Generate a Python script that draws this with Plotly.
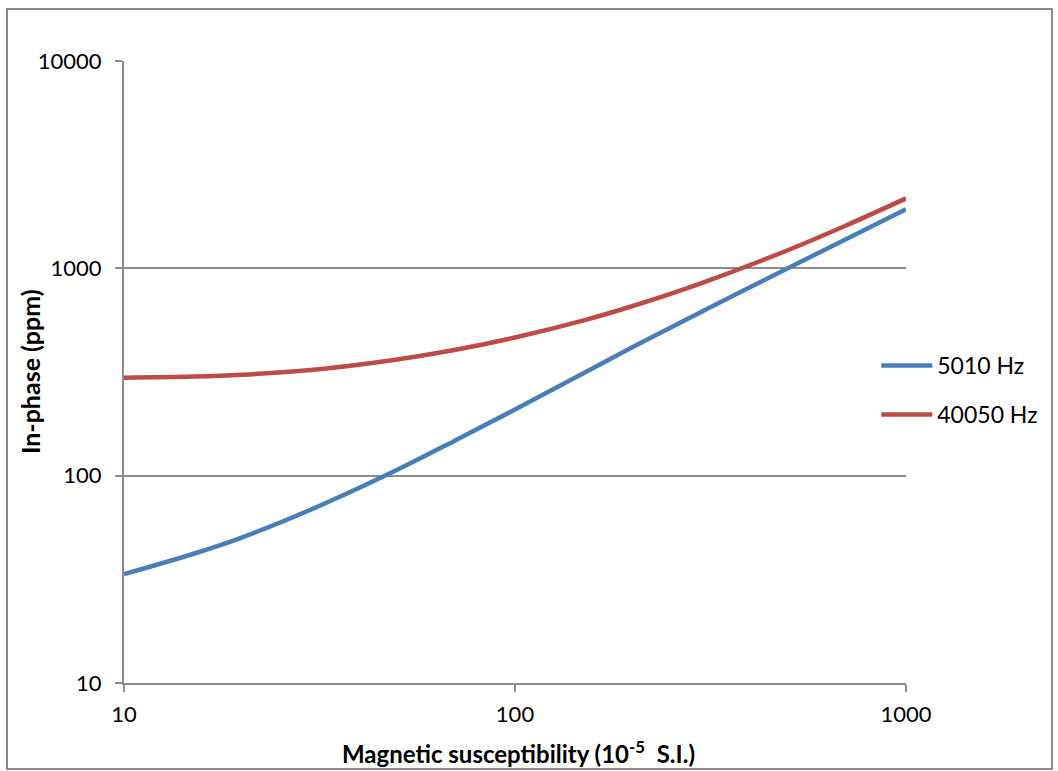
import plotly.graph_objects as go

susceptibility = [10, 15, 20, 30, 50, 70, 100, 150, 200, 300, 500, 700, 1000]
inphase_5010 = [33.5, 41.9, 50.3, 68.5, 106.8, 147.1, 208.5, 312.8, 417.2, 618, 1004, 1377, 1926]
inphase_40050 = [297, 300.7, 306.8, 323.3, 363.7, 403.6, 464, 561, 658, 849, 1226, 1605, 2174]
series_names = ["5010 Hz", "40050 Hz"]
series_colors = ["#4A7EBB", "#BE4B48"]
x_ticks = [10, 100, 1000]
y_ticks = [10, 100, 1000, 10000]

FONT = "Lato, Carlito, Calibri, sans-serif"
GRID = "#8C8C8C"

fig = go.Figure()
for name, vals, col in zip(series_names, [inphase_5010, inphase_40050], series_colors):
    fig.add_trace(go.Scatter(
        x=susceptibility, y=vals, name=name, mode="lines",
        line=dict(color=col, width=4.5, shape="spline", smoothing=1.0),
        legendgroup=name,
    ))

fig.update_layout(
    width=1058, height=771,
    margin=dict(l=124, r=152, t=61, b=88, autoexpand=False),
    paper_bgcolor="white", plot_bgcolor="white",
    font=dict(family=FONT, size=22, color="black"),
    showlegend=True,
    legend=dict(x=0.962, y=0.471, xanchor="left", yanchor="middle",
                font=dict(size=23), tracegroupgap=16, itemwidth=51,
                bgcolor="rgba(0,0,0,0)"),
    xaxis=dict(
        type="log", range=[1, 3], tickvals=x_ticks, ticktext=[str(v) for v in x_ticks],
        showgrid=False, zeroline=False, automargin=False,
        showline=True, linecolor=GRID, linewidth=2,
        ticks="outside", ticklen=7, tickcolor=GRID, tickwidth=2,
        tickfont=dict(size=22), ticklabelstandoff=4,
    ),
    yaxis=dict(
        type="log", range=[1, 4], tickvals=y_ticks, ticktext=[str(v) for v in y_ticks],
        showgrid=True, gridcolor=GRID, gridwidth=2, zeroline=False, automargin=False,
        showline=True, linecolor=GRID, linewidth=2,
        ticks="outside", ticklen=7, tickcolor=GRID, tickwidth=2,
        tickfont=dict(size=22), ticklabelstandoff=9,
    ),
)

# axis titles as annotations (positioned like the reference)
fig.add_annotation(text="<b>Magnetic susceptibility (10<sup>-5</sup>  S.I.)</b>",
                   xref="paper", yref="paper", x=(518 - 124) / 782, y=(683 - 752) / 622,
                   xanchor="center", yanchor="middle", showarrow=False,
                   font=dict(size=24))
fig.add_annotation(text="<b>In-phase (ppm)</b>", xref="paper", yref="paper",
                   x=(30 - 124) / 782, y=0.5, xanchor="center", yanchor="middle",
                   textangle=-90, showarrow=False, font=dict(size=25))

# outer chart border
fig.add_shape(type="rect", xref="paper", yref="paper",
              x0=(7 - 124) / 782, x1=(1052 - 124) / 782,
              y0=(683 - 769) / 622, y1=(683 - 9) / 622,
              line=dict(color=GRID, width=2), fillcolor="rgba(0,0,0,0)", layer="below")

fig.write_html("out.html", config={"displayModeBar": False},
               post_script="document.body.style.margin='0';document.body.style.overflow='hidden';")
